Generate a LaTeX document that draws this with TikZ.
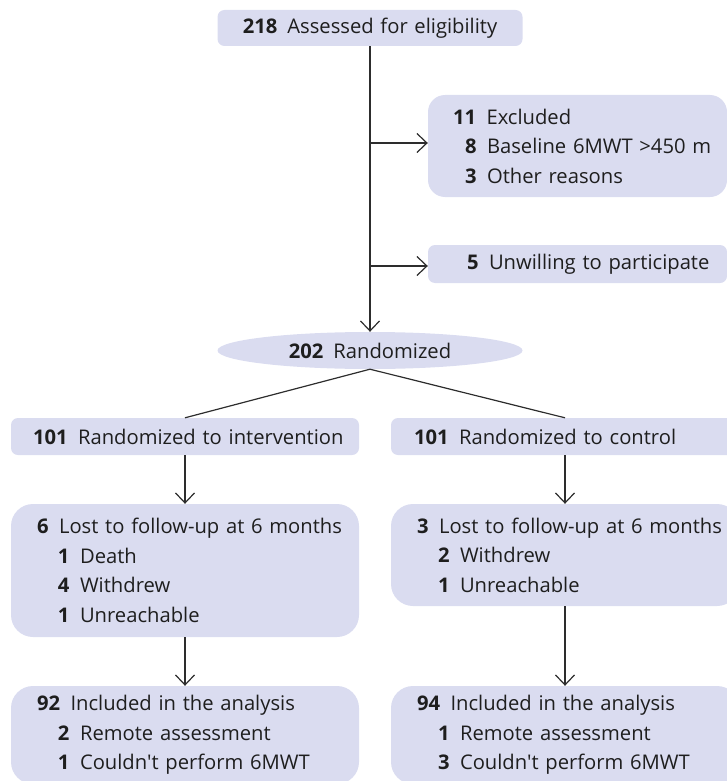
\documentclass[tikz,border=0pt]{standalone}
\usepackage{fontspec}
\setmainfont{Open Sans}[Ligatures=TeXOff]
\usetikzlibrary{arrows.meta,shapes.geometric}
\definecolor{boxfill}{RGB}{218,220,240}
\definecolor{txtcol}{RGB}{30,30,30}
\definecolor{lncol}{RGB}{45,45,45}
\newcommand{\nm}[1]{\textbf{#1}\hspace{10pt}}
\newcommand{\fline}[3]{\hspace*{#1}\mbox{\textbf{#2}\hspace{10.5pt}#3}}
\begin{document}
\begin{tikzpicture}[x=1pt,y=-1pt,
  box/.style={fill=boxfill, draw=none, inner sep=0pt, text width=#1, align=left,
    text=txtcol, font=\fontsize{20.2}{29.5}\selectfont},
  conn/.style={draw=lncol, line width=1.2pt},
  arr/.style={conn, -{Straight Barb[length=10pt,width=19pt]}}]
\useasboundingbox (0,0) rectangle (727,781);
\clip (0,0) rectangle (727,781);

% boxes
\node[box=305pt, align=center, rounded corners=7pt, minimum height=36pt] (assess) at (370,28) {\nm{218}Assessed for eligibility};
\node[box=299pt, rounded corners=17pt, minimum height=102pt] (excl) at (577.5,146)
  {\fline{25pt}{11}{Excluded}\\ \fline{37pt}{8}{Baseline 6MWT >450 m}\\ \fline{37pt}{3}{Other reasons}};
\node[box=299pt, rounded corners=7pt, minimum height=38pt] (unw) at (577.5,264)
  {\fline{39pt}{5}{Unwilling to participate}};
\node[ellipse, fill=boxfill, inner sep=0pt, minimum width=305pt, minimum height=37pt,
  text=txtcol, font=\fontsize{20.2}{29.5}\selectfont] (rand) at (370,350.5) {\nm{202}Randomized};
\node[box=348pt, rounded corners=7pt, minimum height=37pt] (int) at (185,436.5)
  {\fline{22pt}{101}{Randomized to intervention}};
\node[box=348pt, rounded corners=7pt, minimum height=37pt] (ctl) at (565,436.5)
  {\fline{23pt}{101}{Randomized to control}};
\node[box=348pt, rounded corners=22pt, minimum height=133pt] (lost1) at (185,570.5)
  {\fline{26pt}{6}{Lost to follow-up at 6 months}\\ \fline{47pt}{1}{Death}\\ \fline{47pt}{4}{Withdrew}\\ \fline{47pt}{1}{Unreachable}};
\node[box=348pt, rounded corners=22pt, minimum height=102pt] (lost2) at (565,555)
  {\fline{26pt}{3}{Lost to follow-up at 6 months}\\ \fline{47pt}{2}{Withdrew}\\ \fline{47pt}{1}{Unreachable}};
\node[box=348pt, rounded corners=22pt, minimum height=98pt] (inc1) at (185,735)
  {\fline{26pt}{92}{Included in the analysis}\\ \fline{47pt}{2}{Remote assessment}\\ \fline{47pt}{1}{Couldn't perform 6MWT}};
\node[box=348pt, rounded corners=22pt, minimum height=98pt] (inc2) at (565,735)
  {\fline{26pt}{94}{Included in the analysis}\\ \fline{47pt}{1}{Remote assessment}\\ \fline{47pt}{3}{Couldn't perform 6MWT}};

% connectors
\coordinate (b1) at (370,143);
\coordinate (b2) at (370,266);
\draw[arr] (assess.south) -- (rand.north);
\draw[arr] (b1) -- (b1 -| excl.west);
\draw[arr] (b2) -- (b2 -| unw.west);
\draw[conn] (rand.south) -- (int.north);
\draw[conn] (rand.south) -- (ctl.north);
\draw[arr] (int.south) -- (lost1.north);
\draw[arr] (ctl.south) -- (lost2.north);
\draw[arr] (lost1.south) -- (inc1.north);
\draw[arr] (lost2.south) -- (inc2.north);
\end{tikzpicture}
\end{document}
